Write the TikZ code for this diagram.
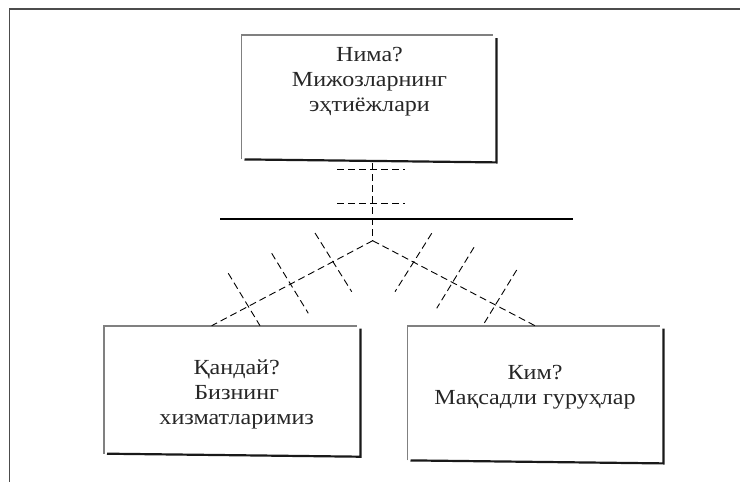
\documentclass[tikz,border=0pt]{standalone}
\usepackage{fontspec}
\setmainfont{Liberation Serif}
\newfontfamily\boxfont[FakeStretch=1.12]{Liberation Serif}
\begin{document}
\begin{tikzpicture}[x=1pt,y=-1pt,
  outline/.style={draw=black!70, line width=1.5pt},
  boxedge/.style={draw=black!50, line width=1.6pt},
  shadowedge/.style={draw=black!90, line width=2.2pt},
  link/.style={dash pattern=on 7pt off 4pt, line width=0.9pt},
  tick/.style={dash pattern=on 7pt off 4pt, line width=0.9pt},
  caption/.style={font=\boxfont\fontsize{21.5}{25}\selectfont, align=center, inner sep=0pt, anchor=north, text=black!85},
  card/.style={inner sep=0pt, anchor=north west},
]
\useasboundingbox (0,0) rectangle (740,482);

% page frame (open to the right and bottom)
\draw[outline] (9.5,482) -- (9.5,9) -- (740,9);

% boxes: grey top/left edges, dark offset edges right/bottom
\node[card, minimum width=251.5pt, minimum height=124pt] (need) at (241.5,35) {};
\node[card, minimum width=253pt, minimum height=127.6pt] (service) at (104,325.7) {};
\node[card, minimum width=252.5pt, minimum height=134.3pt] (target) at (407.5,325.7) {};
\foreach \b in {need,service,target}{
  \draw[boxedge] (\b.south west) -- (\b.north west) -- (\b.north east);
  \draw[shadowedge] ([shift={(3,3)}]\b.north east) -- ([shift={(3,3)}]\b.south east) -- ([shift={(3,0)}]\b.south west);
}

% box texts
\node[caption] (needtext) at (369.5,47.5) {Нима?\\Мижозларнинг\\эҳтиёжлари};
\node[caption] (servicetext) at (236.7,360) {Қандай?\\Бизнинг\\хизматларимиз};
\node[caption] (targettext) at (535,365) {Ким?\\Мақсадли гуруҳлар};

% junction and connector ends
\coordinate (apex) at (372.7,240.7);
\coordinate (vtop) at (372.7,163);
\coordinate (lend) at (211.7,325.7);
\coordinate (rend) at (535,325.7);
\coordinate (barl) at (220,219);
\coordinate (barr) at (573,219);

\draw[line width=1.1pt] (barl) -- (barr);
\draw[link] (vtop) -- (apex);
\draw[link] (apex) -- (lend);
\draw[link] (apex) -- (rend);

% cross marks on the connectors
\draw[tick] (337,169) -- (405,169);
\draw[tick] (337,203) -- (405,203);
\draw[tick] (315,233) -- (351.7,291.7);
\draw[tick] (271.7,253.3) -- (308.3,313.3);
\draw[tick] (228.3,273.3) -- (260,325.7);
\draw[tick] (431.7,233.3) -- (395,291.7);
\draw[tick] (474,247.3) -- (436.7,308.3);
\draw[tick] (516.7,270) -- (482.7,325.7);
\end{tikzpicture}
\end{document}
